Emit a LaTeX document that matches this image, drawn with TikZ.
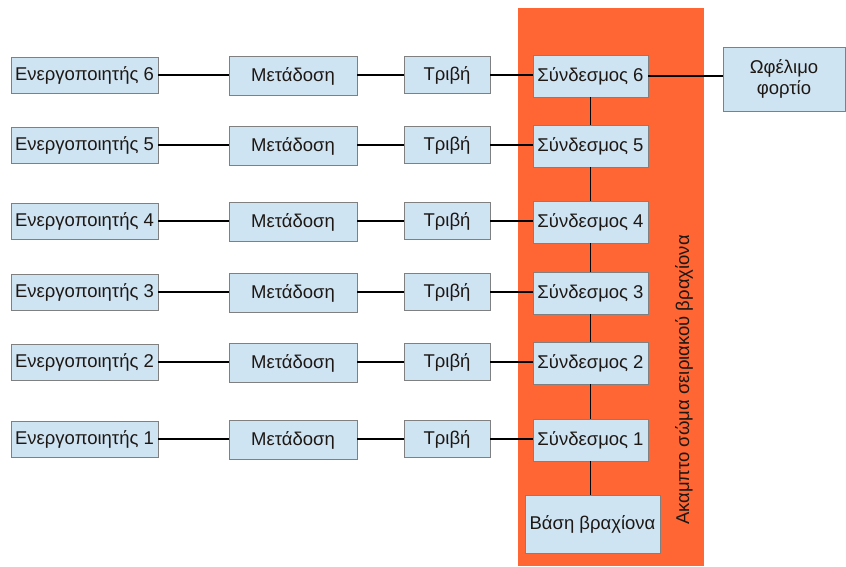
\documentclass[tikz,border=0pt]{standalone}
\usepackage{fontspec}
\setmainfont{Liberation Sans}
\definecolor{boxfill}{RGB}{207,228,243}
\definecolor{boxline}{RGB}{128,128,128}
\definecolor{armbody}{RGB}{255,102,51}
\definecolor{ink}{RGB}{30,24,20}
\begin{document}
\begin{tikzpicture}[x=1pt,y=-1pt,
  block/.style={draw=boxline, fill=boxfill, line width=0.9pt, inner sep=0pt,
    text=ink, font=\fontsize{18.5}{21}\selectfont},
  actuator/.style={block, minimum width=147pt, minimum height=36pt},
  transmission/.style={block, minimum width=128pt, minimum height=39pt},
  friction/.style={block, minimum width=86pt, minimum height=37pt},
  joint/.style={block, minimum width=115pt, minimum height=42pt},
  wire/.style={draw=black, line width=1.1pt}]
\useasboundingbox (0,0) rectangle (846,566);

% rigid body of the serial arm
\fill[armbody] (518,8) rectangle (704,566);
\node[rotate=90, text=ink, font=\fontsize{18.5}{21}\selectfont] (body) at (684,380)
  {Ακαμπτο σώμα σειριακού βραχίονα};

% rows: actuator -> transmission -> friction -> joint
\foreach \i/\y in {6/75, 5/145, 4/221, 3/292, 2/362, 1/439}{
  \node[actuator] (a\i) at (84.5,\y) {Ενεργοποιητής \i};
  \node[transmission] (m\i) at (293,\y+1) {Μετάδοση};
  \node[friction] (f\i) at (447,\y) {Τριβή};
  \node[joint] (j\i) at (590.5,\y+1) {Σύνδεσμος \i};
  \draw[wire] (a\i.east) -- (a\i.east -| m\i.west);
  \draw[wire] (f\i.west -| m\i.east) -- (f\i.west);
  \draw[wire] (f\i.east) -- (f\i.east -| j\i.west);
}

\node[block, minimum width=135pt, minimum height=58pt] (base) at (592.5,524) {Βάση βραχίονα};
\node[block, minimum width=122pt, minimum height=64pt, align=center] (load) at (784,79)
  {Ωφέλιμο\\φορτίο};

% chain of joints
\foreach \u/\l in {6/5,5/4,4/3,3/2,2/1}{
  \draw[wire] (j\u.south) -- (j\l.north);
}
\draw[wire] (j1.south) -- (j1.south |- base.north);
\draw[wire] (j6.east) -- (j6.east -| load.west);
\end{tikzpicture}
\end{document}
